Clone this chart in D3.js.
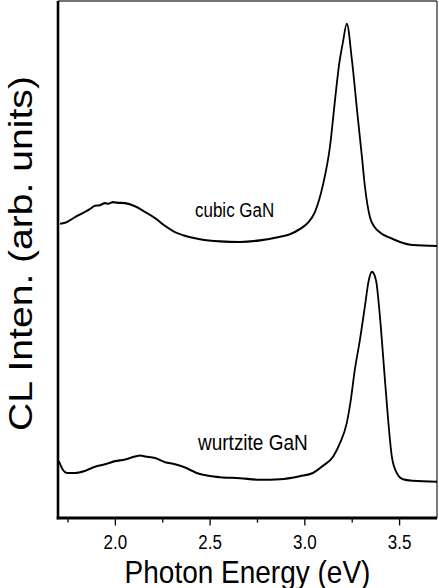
<!DOCTYPE html>
<meta charset="utf-8">
<style>
body { margin: 0; background: #fff; }
text { font-family: "Liberation Sans", Arial, sans-serif; fill: #000; }
</style>
<body>
<script src="https://d3js.org/d3.v7.min.js"></script>
<script>

// photon energy (eV) and CL intensity (arb. units)
var cubicEnergy = [1.711, 1.737, 1.790, 1.842, 1.870, 1.895, 1.920, 1.948, 1.965, 1.990, 2.010, 2.054, 2.106, 2.159, 2.212, 2.265, 2.317, 2.360,
                   2.449, 2.555, 2.660, 2.766, 2.872, 2.924, 2.977, 3.019, 3.056, 3.098, 3.135, 3.162, 3.183, 3.203, 3.224,
                   3.251, 3.278, 3.304, 3.320, 3.346, 3.370, 3.400, 3.452, 3.505, 3.573, 3.700];
var cubicIntensity = [56.9, 57.1, 58.2, 59.2, 59.8, 60.4, 60.5, 60.9, 60.8, 61.1, 61.0, 60.9, 60.3, 59.2, 58.0, 56.5, 55.3, 54.7,
                      53.9, 53.5, 53.4, 53.7, 54.4, 54.9, 55.9, 57.1, 59.2, 64.4, 71.8, 80.9, 87.6, 91.9, 95.6,
                      88.6, 78.9, 69.8, 64.0, 58.2, 56.3, 55.2, 54.2, 53.4, 52.8, 52.6];

var wurtziteEnergy = [1.705, 1.726, 1.747, 1.790, 1.842, 1.895, 1.948, 2.001, 2.054, 2.106, 2.133, 2.159, 2.212, 2.265, 2.317, 2.360,
                      2.449, 2.555, 2.660, 2.766, 2.872, 2.977, 3.045, 3.098, 3.151, 3.188, 3.224, 3.245, 3.266, 3.293,
                      3.319, 3.340, 3.357, 3.378, 3.399, 3.420, 3.441, 3.462, 3.488, 3.520, 3.573, 3.700];
var wurtziteIntensity = [11.0, 9.3, 8.7, 8.7, 9.1, 9.9, 10.4, 11.0, 11.3, 11.9, 12.1, 11.9, 11.6, 10.8, 10.4, 9.9,
                         8.5, 7.9, 7.7, 7.4, 7.5, 8.1, 8.7, 10.1, 11.8, 14.5, 18.4, 22.8, 28.6, 34.4,
                         40.8, 46.0, 47.6, 46.0, 38.9, 29.2, 19.5, 11.8, 8.7, 7.5, 7.2, 7.0];

var majorTicks = [2.0, 2.5, 3.0, 3.5];
var minorTicks = [1.75, 2.25, 2.75, 3.25];
var curveLabels = ["cubic GaN", "wurtzite GaN"];

// the picture is stretched vertically, so draw in a shorter box and stretch it
var W = 439, H = 588, sy = 1.15;
var vh = H / sy;

var svg = d3.select("body").append("svg")
    .attr("width", W)
    .attr("height", H)
    .attr("viewBox", "0 0 " + W + " " + vh)
    .attr("preserveAspectRatio", "none");

var plotLeft = 58, plotRight = 437, plotTop = 1 / sy, plotBottom = 518 / sy;

var x = d3.scaleLinear().domain([1.7, 3.7]).range([plotLeft, plotRight]);
var y = d3.scaleLinear().domain([0, 100]).range([plotBottom, plotTop]);

// frame: thin top / right, heavy left / bottom
svg.append("line").attr("x1", plotLeft).attr("x2", plotRight).attr("y1", plotTop).attr("y2", plotTop)
    .attr("stroke", "#444").attr("stroke-width", 1.2);
svg.append("line").attr("x1", plotRight).attr("x2", plotRight).attr("y1", plotTop).attr("y2", plotBottom)
    .attr("stroke", "#222").attr("stroke-width", 1.2);

// minor ticks
svg.append("g")
    .attr("transform", "translate(0," + plotBottom + ")")
    .call(d3.axisBottom(x).tickValues(minorTicks).tickSize(4).tickSizeOuter(0).tickFormat(""))
    .call(function(g) { g.select(".domain").remove(); })
    .selectAll("line").attr("stroke", "#000").attr("stroke-width", 1.3);

// major ticks + labels
var xAxis = svg.append("g")
    .attr("transform", "translate(0," + plotBottom + ")")
    .call(d3.axisBottom(x).tickValues(majorTicks).tickSize(6.5).tickSizeOuter(0).tickPadding(8.5)
          .tickFormat(d3.format(".1f")));
xAxis.select(".domain").remove();
xAxis.selectAll("line").attr("stroke", "#000").attr("stroke-width", 1.3);
xAxis.selectAll("text")
    .style("font-family", "'Liberation Sans', Arial, sans-serif")
    .style("font-size", "17px");

svg.append("line").attr("x1", plotLeft).attr("x2", plotLeft).attr("y1", plotTop).attr("y2", plotBottom + 1)
    .attr("stroke", "#000").attr("stroke-width", 2.6);
svg.append("line").attr("x1", plotLeft - 1.3).attr("x2", plotRight).attr("y1", plotBottom).attr("y2", plotBottom)
    .attr("stroke", "#000").attr("stroke-width", 2.4);

// spectra
var line = d3.line()
    .x(function(d) { return x(d[0]); })
    .y(function(d) { return y(d[1]); })
    .curve(d3.curveMonotoneX);

svg.append("path")
    .datum(d3.zip(cubicEnergy, cubicIntensity))
    .attr("fill", "none").attr("stroke", "#000").attr("stroke-width", 1.8)
    .attr("stroke-linejoin", "round")
    .attr("d", line);

svg.append("path")
    .datum(d3.zip(wurtziteEnergy, wurtziteIntensity))
    .attr("fill", "none").attr("stroke", "#000").attr("stroke-width", 1.8)
    .attr("stroke-linejoin", "round")
    .attr("d", line);

// curve labels
svg.append("text").attr("x", 195).attr("y", 217 / sy)
    .style("font-size", "17px").text(curveLabels[0]);
svg.append("text").attr("x", 198).attr("y", 450 / sy)
    .style("font-size", "19px").text(curveLabels[1]);

// axis titles
svg.append("text")
    .attr("x", 247.5).attr("y", 583 / sy)
    .attr("text-anchor", "middle")
    .style("font-size", "28px")
    .text("Photon Energy (eV)");

svg.append("text")
    .attr("transform", "translate(32," + (253.5 / sy) + ") rotate(-90)")
    .attr("text-anchor", "middle")
    .style("font-size", "34px")
    .text("CL Inten. (arb. units)");

</script>
</body>
